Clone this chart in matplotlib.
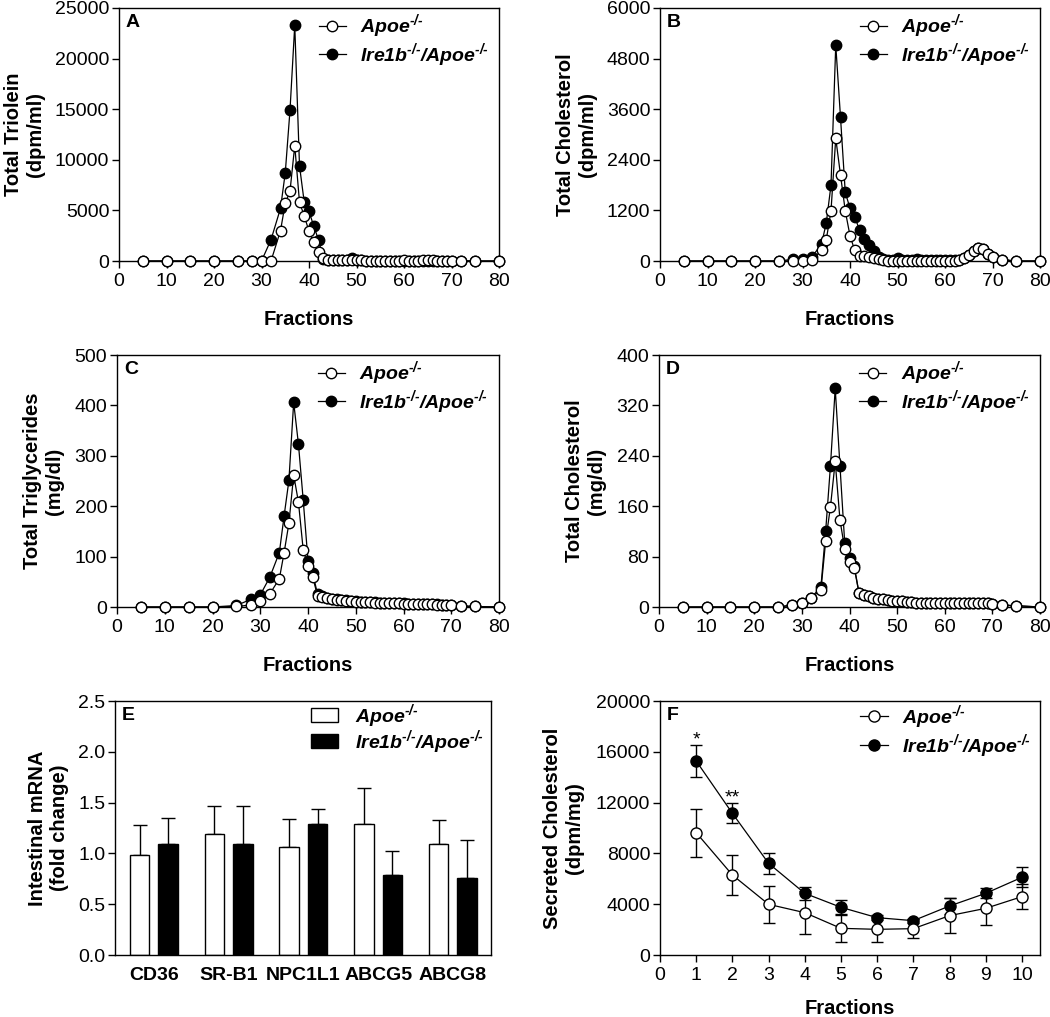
import matplotlib.pyplot as plt
from matplotlib.lines import Line2D
import numpy as np

plt.rcParams['font.family'] = ['Liberation Sans', 'DejaVu Sans']
plt.rcParams['mathtext.fontset'] = 'custom'
plt.rcParams['mathtext.rm'] = 'Liberation Sans:bold:italic'
plt.rcParams['mathtext.it'] = 'Liberation Sans:bold:italic'
plt.rcParams['mathtext.bf'] = 'Liberation Sans:bold:italic'

# --- Data ---
# fraction numbers used in panels A-D
fractions = [5, 10, 15, 20, 25, 28, 30, 32,
             34, 35, 36, 37, 38, 39, 40, 41, 42, 43, 44, 45, 46, 47, 48, 49,
             50, 51, 52, 53, 54, 55, 56, 57, 58, 59, 60, 61, 62, 63, 64, 65,
             66, 67, 68, 69, 70, 72, 75, 80]

# A: total triolein (dpm/ml)
triolein_apoe = [0, 0, 0, 0, 0, 0, 0, 0,
                 3000, 5700, 6900, 11400, 5800, 4450, 2950, 1850, 850, 330, 120, 80, 60, 50, 50, 60,
                 50, 50, 40, 40, 40, 40, 40, 40, 40, 40, 50, 40, 40, 40, 50, 50,
                 50, 40, 40, 40, 40, 20, 0, 0]
triolein_ire = [0, 0, 0, 0, 0, 0, 0, 2100,
                5200, 8700, 14900, 23300, 9400, 5800, 4900, 3450, 2100, 150, 80, 60, 50, 50, 50, 250,
                100, 50, 40, 40, 40, 40, 40, 40, 40, 40, 40, 40, 40, 40, 40, 40,
                40, 40, 40, 40, 40, 20, 0, 0]

# B: total cholesterol (dpm/ml)
chol_dpm_apoe = [0, 0, 0, 0, 0, 0, 0, 30,
                 250, 500, 1190, 2910, 2040, 1190, 600, 250, 130, 110, 100, 80, 40, 20, 10, 10,
                 10, 10, 10, 10, 10, 10, 10, 10, 10, 10, 10, 10, 10, 20, 60, 140,
                 230, 320, 280, 170, 90, 30, 0, 0]
chol_dpm_ire = [0, 0, 0, 0, 0, 40, 40, 100,
                400, 900, 1800, 5120, 3410, 1630, 1250, 1050, 735, 520, 380, 245, 100, 50, 30, 30,
                60, 30, 20, 20, 50, 20, 20, 20, 20, 20, 20, 20, 20, 20, 60, 140,
                230, 320, 280, 170, 90, 30, 0, 0]

# C: total triglycerides (mg/dl)
tg_apoe = [0, 0, 0, 0, 1, 4, 11, 26,
           56, 108, 166, 262, 208, 113, 82, 59, 22, 19, 17, 15, 14, 13, 12, 11,
           10, 10, 9, 9, 8, 8, 8, 7, 7, 7, 6, 6, 6, 5, 5, 5,
           5, 4, 4, 4, 4, 2, 1, 0]
tg_ire = [0, 0, 0, 0, 3, 15, 24, 59,
          108, 181, 251, 406, 323, 212, 92, 67, 25, 21, 18, 16, 15, 14, 13, 12,
          11, 10, 10, 9, 9, 8, 8, 8, 7, 7, 7, 6, 6, 6, 5, 5,
          5, 5, 4, 4, 4, 2, 1, 0]

# D: total cholesterol (mg/dl)
chol_mg_apoe = [0, 0, 0, 0, 0, 3, 6, 15,
                27, 105, 159, 231, 138, 92, 72, 62, 22, 19, 17, 15, 13, 12, 11, 10,
                9, 9, 8, 8, 7, 7, 7, 6, 6, 6, 6, 6, 7, 7, 7, 7,
                7, 7, 6, 6, 5, 3, 2, 0]
chol_mg_ire = [0, 0, 0, 0, 0, 3, 6, 15,
               32, 121, 224, 347, 224, 101, 77, 65, 22, 19, 17, 15, 13, 12, 11, 10,
               9, 9, 8, 8, 7, 7, 7, 6, 6, 6, 6, 6, 7, 7, 7, 7,
               7, 7, 6, 6, 5, 3, 2, 0]

# E: intestinal mRNA
genes = ['CD36', 'SR-B1', 'NPC1L1', 'ABCG5', 'ABCG8']
mrna_apoe = [0.98, 1.19, 1.06, 1.29, 1.09]
mrna_apoe_err = [0.30, 0.28, 0.28, 0.35, 0.24]
mrna_ire = [1.09, 1.09, 1.29, 0.79, 0.76]
mrna_ire_err = [0.26, 0.38, 0.15, 0.23, 0.37]

# F: secreted cholesterol (dpm/mg)
f_fractions = [1, 2, 3, 4, 5, 6, 7, 8, 9, 10]
secr_apoe = [9634, 6300, 3990, 3334, 2100, 2021, 2074, 3098, 3675, 4594]
secr_apoe_err = [1890, 1600, 1444, 1680, 1100, 1000, 735, 1390, 1310, 1000]
secr_ire = [15278, 11156, 7219, 4856, 3754, 2940, 2704, 3859, 4856, 6116]
secr_ire_err = [1270, 790, 840, 525, 577, 200, 150, 656, 394, 788]
stars = {1: '*', 2: '**'}

# superscript "-/-" with plain hyphens (U+2010)
APOE = 'Apoe$^{\u2010/\u2010}$'
IRE = 'Ire1b$^{\u2010/\u2010}$/Apoe$^{\u2010/\u2010}$'
LEG_FONT = {'weight': 'bold', 'style': 'italic', 'size': 14}

W, H = 1050, 1017
fig = plt.figure(figsize=(W / 100, H / 100), dpi=100)


def px_axes(left, top, right, bottom):
    return fig.add_axes([left / W, 1 - bottom / H, (right - left) / W, (bottom - top) / H])


def style(ax, letter):
    for s in ax.spines.values():
        s.set_linewidth(1.0)
    ax.tick_params(direction='out', length=5, width=1, labelsize=14)
    ax.tick_params(axis='y', pad=2)
    ax.tick_params(axis='x', pad=4)
    ax.text(0.018, 0.975, letter, transform=ax.transAxes, ha='left', va='top',
            fontsize=14, fontweight='bold')


def series_handles(ms):
    h_apoe = Line2D([], [], color='black', lw=0.9, marker='o', ms=ms, mfc='white', mec='black', mew=1)
    h_ire = Line2D([], [], color='black', lw=0.9, marker='o', ms=ms, mfc='black', mec='black', mew=1)
    return [h_apoe, h_ire]


def fraction_panel(ax, apoe, ire, ymax, ystep, ylabel, letter, ylab_x):
    ax.plot(fractions, ire, '-', color='black', lw=0.9, marker='o', ms=7.5,
            mfc='black', mec='black', mew=1, clip_on=False, zorder=3)
    ax.plot(fractions, apoe, '-', color='black', lw=0.9, marker='o', ms=7.5,
            mfc='white', mec='black', mew=1, clip_on=False, zorder=4)
    ax.set_xlim(0, 80)
    ax.set_ylim(0, ymax)
    ax.set_xticks(np.arange(0, 81, 10))
    ax.set_yticks(np.arange(0, ymax + 1, ystep))
    ax.set_xlabel('Fractions', fontsize=14.5, fontweight='bold')
    ax.xaxis.set_label_coords(0.5, -0.195)
    ax.set_ylabel(ylabel, fontsize=14.5, fontweight='bold', linespacing=1.2)
    ax.yaxis.set_label_coords(ylab_x, 0.5)
    style(ax, letter)
    ax.legend(series_handles(7.5), [APOE, IRE], loc='upper left', bbox_to_anchor=(0.515, 0.998),
              frameon=False, prop=LEG_FONT, handlelength=1.4, handletextpad=0.75,
              borderpad=0.2, borderaxespad=0, labelspacing=0.02)


axA = px_axes(119, 8, 499, 261)
fraction_panel(axA, triolein_apoe, triolein_ire, 25000, 5000,
               'Total Triolein\n(dpm/ml)', 'A', -0.195)

axB = px_axes(660, 8, 1040, 261)
fraction_panel(axB, chol_dpm_apoe, chol_dpm_ire, 6000, 1200,
               'Total Cholesterol\n(dpm/ml)', 'B', -0.166)

axC = px_axes(117, 355, 499, 607)
fraction_panel(axC, tg_apoe, tg_ire, 500, 100,
               'Total Triglycerides\n(mg/dl)', 'C', -0.139)

axD = px_axes(659, 355, 1040, 607)
fraction_panel(axD, chol_mg_apoe, chol_mg_ire, 400, 80,
               'Total Cholesterol\n(mg/dl)', 'D', -0.139)

# --- E: bar chart ---
axE = px_axes(115, 701, 491, 955)
x = np.arange(len(genes))
bw = 0.26
off = 0.19
axE.bar(x - off, mrna_apoe, bw, color='white', edgecolor='black', lw=1, zorder=2, label=APOE)
axE.bar(x + off, mrna_ire, bw, color='black', edgecolor='black', lw=1, zorder=2, label=IRE)
axE.errorbar(x - off, mrna_apoe, yerr=[np.zeros(len(genes)), mrna_apoe_err], fmt='none',
             ecolor='black', elinewidth=1, capsize=5, capthick=1, zorder=1)
axE.errorbar(x + off, mrna_ire, yerr=[np.zeros(len(genes)), mrna_ire_err], fmt='none',
             ecolor='black', elinewidth=1, capsize=5, capthick=1, zorder=1)
axE.set_xlim(-0.52, 4.51)
axE.set_ylim(0, 2.5)
axE.set_yticks(np.arange(0, 2.51, 0.5))
axE.set_yticklabels([f'{v:.1f}' for v in np.arange(0, 2.51, 0.5)])
axE.set_xticks(x)
axE.set_xticklabels(genes, fontweight='bold')
axE.set_ylabel('Intestinal mRNA\n(fold change)', fontsize=14.5, fontweight='bold', linespacing=1.2)
axE.yaxis.set_label_coords(-0.122, 0.5)
style(axE, 'E')
axE.tick_params(axis='x', length=0, pad=9)
axE.legend(loc='upper left', bbox_to_anchor=(0.51, 1.012), frameon=False, prop=LEG_FONT,
           handlelength=1.4, handleheight=0.75, handletextpad=0.9,
           borderpad=0.2, borderaxespad=0, labelspacing=-0.1)

# --- F: secreted cholesterol ---
axF = px_axes(660, 701, 1040, 955)
axF.errorbar(f_fractions, secr_ire, yerr=secr_ire_err, fmt='-o', color='black', lw=0.9,
             ms=8, mfc='black', mec='black', mew=1, elinewidth=1, capsize=4, capthick=1,
             zorder=3)
axF.errorbar(f_fractions, secr_apoe, yerr=secr_apoe_err, fmt='-o', color='black', lw=0.9,
             ms=8, mfc='white', mec='black', mew=1, elinewidth=1, capsize=4, capthick=1,
             zorder=4)
for fx, s in stars.items():
    i = f_fractions.index(fx)
    axF.text(fx, secr_ire[i] + secr_ire_err[i] - 250, s, ha='center', va='bottom', fontsize=14)
axF.set_xlim(0, 10.5)
axF.set_ylim(0, 20000)
axF.set_xticks(np.arange(0, 11, 1))
axF.set_yticks(np.arange(0, 20001, 4000))
axF.set_xlabel('Fractions', fontsize=14.5, fontweight='bold')
axF.xaxis.set_label_coords(0.5, -0.172)
axF.set_ylabel('Secreted Cholesterol\n(dpm/mg)', fontsize=14.5, fontweight='bold', linespacing=1.2)
axF.yaxis.set_label_coords(-0.2, 0.5)
style(axF, 'F')
axF.legend(series_handles(8), [APOE, IRE], loc='upper left', bbox_to_anchor=(0.515, 1.008),
           frameon=False, prop=LEG_FONT, handlelength=1.45, handletextpad=0.75,
           borderpad=0.2, borderaxespad=0, labelspacing=0.05)

fig.savefig('out.png', dpi=100)
